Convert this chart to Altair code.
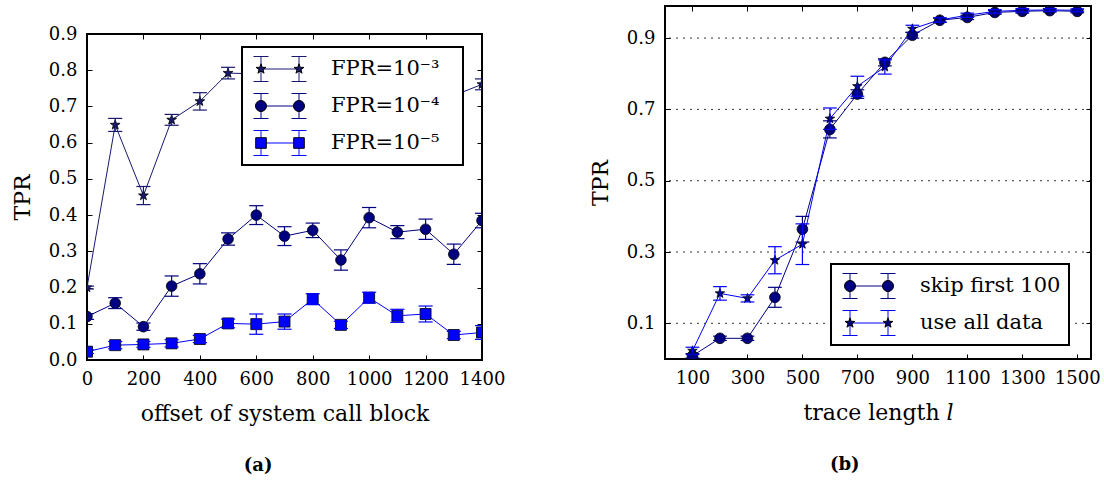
import math
import altair as alt
import pandas as pd

FONT = "DejaVu Serif"

# ---------------- data: panel (a) ----------------
offsets = [0, 100, 200, 300, 400, 500, 600, 700, 800, 900, 1000, 1100, 1200, 1300, 1400]
tpr_fpr3 = [0.200, 0.649, 0.454, 0.663, 0.714, 0.792, 0.790, 0.800, 0.780, 0.810, 0.800, 0.790, 0.780, 0.730, 0.761]
err_fpr3 = [0.004, 0.018, 0.025, 0.015, 0.024, 0.016, 0.015, 0.015, 0.015, 0.015, 0.015, 0.015, 0.015, 0.015, 0.015]
tpr_fpr4 = [0.120, 0.157, 0.092, 0.204, 0.238, 0.334, 0.400, 0.342, 0.358, 0.276, 0.393, 0.353, 0.361, 0.292, 0.385]
err_fpr4 = [0.008, 0.015, 0.010, 0.028, 0.028, 0.017, 0.026, 0.026, 0.020, 0.028, 0.028, 0.018, 0.028, 0.028, 0.020]
tpr_fpr5 = [0.023, 0.041, 0.043, 0.046, 0.058, 0.101, 0.099, 0.106, 0.168, 0.097, 0.172, 0.122, 0.127, 0.069, 0.076]
err_fpr5 = [0.005, 0.010, 0.008, 0.010, 0.010, 0.012, 0.028, 0.021, 0.015, 0.010, 0.015, 0.018, 0.022, 0.010, 0.019]
names_a = ["FPR=10\u207b\u00b3", "FPR=10\u207b\u2074", "FPR=10\u207b\u2075"]
xticks_a = [0, 200, 400, 600, 800, 1000, 1200, 1400]
yticks_a = [0.0, 0.1, 0.2, 0.3, 0.4, 0.5, 0.6, 0.7, 0.8, 0.9]

# ---------------- data: panel (b) ----------------
lengths = [100, 200, 300, 400, 500, 600, 700, 800, 900, 1000, 1100, 1200, 1300, 1400, 1500]
tpr_skip = [0.009, 0.058, 0.058, 0.173, 0.364, 0.644, 0.743, 0.832, 0.908, 0.950, 0.958, 0.972, 0.975, 0.977, 0.975]
err_skip = [0.006, 0.006, 0.006, 0.028, 0.036, 0.024, 0.012, 0.010, 0.008, 0.006, 0.006, 0.005, 0.005, 0.004, 0.004]
tpr_all = [0.023, 0.184, 0.170, 0.277, 0.322, 0.674, 0.765, 0.819, 0.926, 0.951, 0.964, 0.975, 0.978, 0.979, 0.978]
err_all = [0.010, 0.019, 0.010, 0.038, 0.057, 0.030, 0.028, 0.020, 0.010, 0.006, 0.006, 0.005, 0.005, 0.004, 0.004]
names_b = ["skip first 100", "use all data"]
xticks_b = [100, 300, 500, 700, 900, 1100, 1300, 1500]
yticks_b = [0.1, 0.3, 0.5, 0.7, 0.9]


def long_table(xv, series):
    rows = []
    for name, vals, errs in series:
        for x, v, e in zip(xv, vals, errs):
            rows.append({"x": x, "tpr": v, "err": e, "series": name})
    return pd.DataFrame(rows)


df_a = long_table(offsets, [(names_a[0], tpr_fpr3, err_fpr3),
                            (names_a[1], tpr_fpr4, err_fpr4),
                            (names_a[2], tpr_fpr5, err_fpr5)])
df_b = long_table(lengths, [(names_b[0], tpr_skip, err_skip),
                            (names_b[1], tpr_all, err_all)])

# ---------------- marker shapes ----------------
def star_path(cx, R, ratio=0.4):
    pts = []
    for k in range(10):
        a = math.radians(-90 + 36 * k)
        r = R if k % 2 == 0 else R * ratio
        pts.append(f"{cx + r * math.cos(a):.4f},{r * math.sin(a):.4f}")
    return "M" + "L".join(pts) + "Z"


def circle_path(cx, r):
    return (f"M{cx - r:.4f},0A{r:.4f},{r:.4f} 0 1,0 {cx + r:.4f},0"
            f"A{r:.4f},{r:.4f} 0 1,0 {cx - r:.4f},0Z")


def square_path(cx, h):
    return (f"M{cx - h:.4f},{-h:.4f}L{cx + h:.4f},{-h:.4f}"
            f"L{cx + h:.4f},{h:.4f}L{cx - h:.4f},{h:.4f}Z")


STAR = star_path(0, 1.0)
LEG_SIZE = 2809
U = math.sqrt(LEG_SIZE) / 2
MX, EB, CAPW = 19 / U, 12.5 / U, 7.5 / U
ERRBAR_SYMBOL = f"M{-MX:.4f},0L{MX:.4f},0"
for s in (-1, 1):
    cx = s * MX
    ERRBAR_SYMBOL += (f"M{cx:.4f},{-EB:.4f}L{cx:.4f},{EB:.4f}"
                      f"M{cx - CAPW:.4f},{-EB:.4f}L{cx + CAPW:.4f},{-EB:.4f}"
                      f"M{cx - CAPW:.4f},{EB:.4f}L{cx + CAPW:.4f},{EB:.4f}")


def pair(fn, r):
    return fn(-MX, r) + fn(MX, r)


LEG_STAR = pair(star_path, 5.2 / U)
LEG_CIRCLE = pair(circle_path, 5.5 / U)
LEG_SQUARE = pair(square_path, 5.3 / U)


def safe(cls, **kw):
    try:
        cls(**kw).to_dict(validate=True)
        return kw
    except Exception:
        return {}


legend_border = safe(alt.Legend, strokeWidth=2)
legend_cfg_border = safe(alt.LegendConfig, strokeWidth=2)

CAP_HALF = 25  # error-bar cap half width (x units)
BLANK = "\u2800"  # invisible, non-whitespace filler to widen the legend box


def panel(df, names, x_dom, x_vals, y_dom, y_vals, w, h, line_cols, mark_cols,
          shapes, sizes, leg_shapes, leg_xy, x_title, y_title, caption,
          grid, nfill):
    df = df.copy()
    df["lo"] = df["tpr"] - df["err"]
    df["hi"] = df["tpr"] + df["err"]
    df["xl"] = df["x"] - CAP_HALF
    df["xr"] = df["x"] + CAP_HALF

    xs = alt.Scale(domain=x_dom, nice=False, zero=False)
    ys = alt.Scale(domain=y_dom, nice=False, zero=False)
    stroke_scale = alt.Scale(domain=names, range=line_cols)

    ax_bottom = alt.Axis(orient="bottom", values=x_vals, format="d", title=x_title,
                         labelPadding=10, titlePadding=15, labelOverlap=False,
                         labelFlush=False)
    ax_left = alt.Axis(orient="left", values=y_vals, format=".1f", title=y_title,
                       labelPadding=10, titlePadding=14, labelOverlap=False,
                       labelFlush=False)
    ax_top = alt.Axis(orient="top", values=x_vals, labels=False, title=None)
    ax_right = alt.Axis(orient="right", values=y_vals, labels=False, title=None)

    common_leg = dict(title=None, orient="none", legendX=leg_xy[0], legendY=leg_xy[1],
                      direction="vertical", symbolSize=LEG_SIZE, symbolStrokeWidth=1,
                      clipHeight=28, rowPadding=9, padding=8, symbolOffset=3,
                      labelOffset=24, labelFont=FONT, labelFontSize=21,
                      labelColor="black", labelLimit=500)
    if nfill:
        common_leg["labelExpr"] = "datum.label + '" + BLANK * nfill + "'"
    legA = alt.Legend(symbolType=ERRBAR_SYMBOL, symbolFillColor="transparent",
                      fillColor="white", strokeColor="black", zindex=1,
                      **legend_border, **common_leg)
    legB = alt.Legend(labelOpacity=0, symbolOpacity=1, zindex=2, **common_leg)

    base = alt.Chart(df)
    layers = []
    if grid:
        layers.append(
            alt.Chart(pd.DataFrame({"g": y_vals})).mark_rule(
                stroke="black", strokeWidth=0.8, strokeDash=[2, 5]
            ).encode(y=alt.Y("g:Q", scale=ys, axis=None))
        )
    layers.append(
        base.mark_line(strokeWidth=1, clip=True).encode(
            x=alt.X("x:Q", scale=xs, axis=ax_bottom),
            y=alt.Y("tpr:Q", scale=ys, axis=ax_left),
            stroke=alt.Stroke("series:N", scale=stroke_scale, legend=legA),
        )
    )
    layers.append(
        base.mark_point(filled=True, opacity=1, stroke="black", strokeWidth=0.8,
                        clip=True).encode(
            x=alt.X("x:Q", scale=xs, axis=ax_top),
            y=alt.Y("tpr:Q", scale=ys, axis=ax_right),
            fill=alt.Fill("series:N", scale=alt.Scale(domain=names, range=mark_cols),
                          legend=None),
            shape=alt.Shape("series:N", scale=alt.Scale(domain=names, range=shapes),
                            legend=None),
            size=alt.Size("series:N", scale=alt.Scale(domain=names, range=sizes),
                          legend=None),
        )
    )
    layers.append(
        base.mark_rule(strokeWidth=1.2, clip=True).encode(
            x=alt.X("x:Q", scale=xs, axis=None),
            y=alt.Y("lo:Q", scale=ys, axis=None),
            y2="hi:Q",
            stroke=alt.Stroke("series:N", scale=stroke_scale, legend=None),
        )
    )
    for fld in ("lo", "hi"):
        layers.append(
            base.mark_rule(strokeWidth=1.2, clip=True).encode(
                x=alt.X("xl:Q", scale=xs, axis=None),
                x2="xr:Q",
                y=alt.Y(f"{fld}:Q", scale=ys, axis=None),
                stroke=alt.Stroke("series:N", scale=stroke_scale, legend=None),
            )
        )
    layers.append(
        base.mark_point(filled=True, opacity=0, stroke="black", strokeWidth=0.8).encode(
            x=alt.X("x:Q", scale=xs, axis=None),
            y=alt.Y("tpr:Q", scale=ys, axis=None),
            fill=alt.Fill("series:N", scale=alt.Scale(domain=names, range=mark_cols),
                          legend=legB),
            shape=alt.Shape("series:N", scale=alt.Scale(domain=names, range=leg_shapes),
                            legend=legB),
        )
    )
    return alt.layer(*layers).resolve_scale(
        fill="independent", shape="independent", size="independent"
    ).resolve_axis(x="independent", y="independent").properties(
        width=w, height=h,
        title=alt.TitleParams(caption, orient="bottom", font=FONT, fontSize=18,
                              fontWeight="bold", color="black", offset=33,
                              anchor="middle", frame="bounds"),
    )


left = panel(df_a, names_a, [0, 1400], xticks_a, [0, 0.9], yticks_a, 395, 326,
             ["#191970", "#000080", "#0000ff"], ["#191970", "#000080", "#0000ff"],
             [STAR, "circle", "square"], [105, 121, 121],
             [LEG_STAR, LEG_CIRCLE, LEG_SQUARE], (155, 13),
             "offset of system call block", "TPR", "(a)", False, 1)

right = panel(df_b, names_b, [0, 1550], xticks_b, [0, 0.99], yticks_b, 426, 353,
              ["#000080", "#0000ff"], ["#000080", "#000080"],
              ["circle", STAR], [115, 100],
              [LEG_CIRCLE, LEG_STAR], (166, 258),
              "trace length \U0001D459", "TPR", "(b)", True, 0)

spacer = alt.Chart(pd.DataFrame({"v": [0]})).mark_point(opacity=0).encode(
    x=alt.X("v:Q", axis=None), y=alt.Y("v:Q", axis=None)
).properties(width=395, height=17, view=alt.ViewBackground(stroke="transparent"))

indep = dict(stroke="independent", fill="independent", shape="independent",
             size="independent", x="independent", y="independent")
indep_leg = dict(stroke="independent", fill="independent", shape="independent",
                 size="independent")

left_col = alt.vconcat(spacer, left, spacing=0).resolve_scale(**indep).resolve_legend(**indep_leg)

chart = alt.hconcat(left_col, right, spacing=82).resolve_scale(**indep).resolve_legend(
    **indep_leg
).properties(
    padding={"left": 10, "top": 4, "right": 0, "bottom": 0}
).configure_view(
    stroke="black", strokeWidth=2
).configure_axis(
    labelFont=FONT, titleFont=FONT, labelFontSize=18, titleFontSize=22,
    labelColor="black", titleColor="black", tickColor="black", tickSize=5,
    tickWidth=1, domain=False, grid=False, offset=-5, titleFontWeight="normal"
)
if legend_cfg_border:
    chart = chart.configure_legend(**legend_cfg_border)

chart.save("out.html", embed_options={"renderer": "svg", "actions": False})
